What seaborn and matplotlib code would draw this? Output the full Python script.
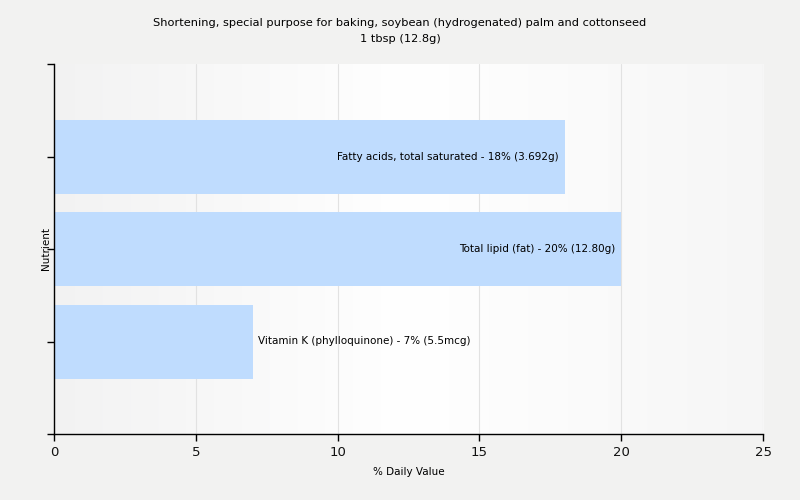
import numpy as np
import pandas as pd
import matplotlib
matplotlib.use('Agg')
import matplotlib.pyplot as plt
import seaborn as sns

# donnees
nutrients = ['Fatty acids, total saturated', 'Total lipid (fat)', 'Vitamin K (phylloquinone)']
daily_values = [18, 20, 7]
labels = ['Fatty acids, total saturated - 18% (3.692g)',
          'Total lipid (fat) - 20% (12.80g)',
          'Vitamin K (phylloquinone) - 7% (5.5mcg)']
x_ticks = [0, 5, 10, 15, 20, 25]

df = pd.DataFrame({'Nutrient': nutrients, 'Value': daily_values, 'Label': labels})

sns.set_style('white')
plt.rcParams['font.family'] = ['DejaVu Sans']

fig = plt.figure(figsize=(8, 5), dpi=100, facecolor='#f2f2f1')
ax = fig.add_axes([0.0675, 0.132, 0.8863, 0.74])

# fond en degrade (gris - blanc - gris)
grad = np.concatenate([np.linspace(0.95, 1.0, 400), np.linspace(1.0, 0.965, 400)])
rgb = np.dstack([grad, grad, grad * 0.998 + 0.002])
ax.imshow(np.repeat(rgb, 2, axis=0), aspect='auto', extent=[0, 25, 3, -1],
          interpolation='bilinear', zorder=0)

sns.barplot(data=df, x='Value', y='Nutrient', color='#bfdcfe', width=0.8,
            saturation=1, linewidth=0, edgecolor='none', ax=ax, zorder=2)

for i, row in df.iterrows():
    if row['Value'] > 10:
        ax.text(row['Value'] - 0.2, i, row['Label'], ha='right', va='center',
                fontsize=7.5, color='black', zorder=3)
    else:
        ax.text(row['Value'] + 0.2, i, row['Label'], ha='left', va='center',
                fontsize=7.5, color='black', zorder=3)

ax.set_xlim(0, 25)
ax.set_ylim(3, -1)
ax.set_xticks(x_ticks)
ax.set_xticklabels([str(t) for t in x_ticks], fontsize=9.5)
ax.set_yticks([-1, 0, 1, 2, 3])
ax.set_yticklabels([])
ax.grid(axis='x', color='#e2e2e2', linewidth=0.8, zorder=1)
ax.set_axisbelow(True)
ax.tick_params(axis='both', direction='out', length=5, width=1, color='black',
               labelcolor='#111111', left=True, bottom=True)

for side in ['top', 'right']:
    ax.spines[side].set_visible(False)
for side in ['left', 'bottom']:
    ax.spines[side].set_color('black')
    ax.spines[side].set_linewidth(1)

ax.set_xlabel('% Daily Value', fontsize=7.5, labelpad=6, color='black')
ax.set_ylabel('Nutrient', fontsize=7.5, labelpad=-6, color='black')
fig.suptitle('Shortening, special purpose for baking, soybean (hydrogenated) palm and cottonseed\n1 tbsp (12.8g)',
             x=0.5, y=0.965, va='top', fontsize=8.2, linespacing=1.85, color='black')

plt.savefig('out.png', dpi=100, facecolor=fig.get_facecolor())
